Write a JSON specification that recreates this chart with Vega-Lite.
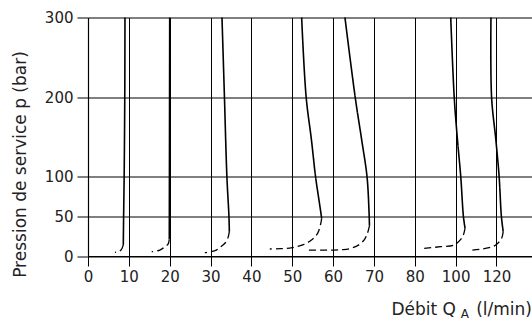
{
  "$schema": "https://vega.github.io/schema/vega-lite/v6.json",
  "width": 444,
  "height": 238.5,
  "autosize": "none",
  "padding": {"left": 88, "top": 17.5, "right": 0, "bottom": 64},
  "config": {"view": {"stroke": null}, "font": "DejaVu Sans"},
  "datasets": {
    "curves": [
      {"c": 1, "s": "solid", "i": 0, "q": 9.05, "p": 300},
      {"c": 1, "s": "solid", "i": 1, "q": 9.0, "p": 200},
      {"c": 1, "s": "solid", "i": 2, "q": 8.85, "p": 100},
      {"c": 1, "s": "solid", "i": 3, "q": 8.72, "p": 50},
      {"c": 1, "s": "solid", "i": 4, "q": 8.64, "p": 14},
      {"c": 1, "s": "dashed", "i": 4, "q": 8.64, "p": 14},
      {"c": 1, "s": "dashed", "i": 5, "q": 8.2, "p": 8.4},
      {"c": 1, "s": "dashed", "i": 6, "q": 7.5, "p": 5.5},
      {"c": 1, "s": "dashed", "i": 7, "q": 6.6, "p": 4.6},
      {"c": 2, "s": "solid", "i": 0, "q": 20.0, "p": 300},
      {"c": 2, "s": "solid", "i": 1, "q": 19.95, "p": 150},
      {"c": 2, "s": "solid", "i": 2, "q": 19.9, "p": 21},
      {"c": 2, "s": "dashed", "i": 2, "q": 19.9, "p": 21},
      {"c": 2, "s": "dashed", "i": 3, "q": 19.6, "p": 15},
      {"c": 2, "s": "dashed", "i": 4, "q": 18.85, "p": 11.7},
      {"c": 2, "s": "dashed", "i": 5, "q": 17.6, "p": 7.5},
      {"c": 2, "s": "dashed", "i": 6, "q": 15.6, "p": 5.4},
      {"c": 3, "s": "solid", "i": 0, "q": 32.8, "p": 300},
      {"c": 3, "s": "solid", "i": 1, "q": 33.4, "p": 200},
      {"c": 3, "s": "solid", "i": 2, "q": 34.0, "p": 100},
      {"c": 3, "s": "solid", "i": 3, "q": 34.5, "p": 50},
      {"c": 3, "s": "solid", "i": 4, "q": 34.6, "p": 30.6},
      {"c": 3, "s": "dashed", "i": 4, "q": 34.6, "p": 30.6},
      {"c": 3, "s": "dashed", "i": 5, "q": 34.2, "p": 22},
      {"c": 3, "s": "dashed", "i": 6, "q": 33.5, "p": 16},
      {"c": 3, "s": "dashed", "i": 7, "q": 32.5, "p": 11.7},
      {"c": 3, "s": "dashed", "i": 8, "q": 31.1, "p": 6.7},
      {"c": 3, "s": "dashed", "i": 9, "q": 28.6, "p": 4.2},
      {"c": 4, "s": "solid", "i": 0, "q": 52.3, "p": 300},
      {"c": 4, "s": "solid", "i": 1, "q": 53.4, "p": 200},
      {"c": 4, "s": "solid", "i": 2, "q": 54.7, "p": 146},
      {"c": 4, "s": "solid", "i": 3, "q": 55.7, "p": 100},
      {"c": 4, "s": "solid", "i": 4, "q": 56.7, "p": 65},
      {"c": 4, "s": "solid", "i": 5, "q": 57.2, "p": 47.4},
      {"c": 4, "s": "dashed", "i": 5, "q": 57.2, "p": 47.4},
      {"c": 4, "s": "dashed", "i": 6, "q": 56.9, "p": 39},
      {"c": 4, "s": "dashed", "i": 7, "q": 56.2, "p": 28.5},
      {"c": 4, "s": "dashed", "i": 8, "q": 54.7, "p": 20},
      {"c": 4, "s": "dashed", "i": 9, "q": 52.9, "p": 14.7},
      {"c": 4, "s": "dashed", "i": 10, "q": 50.0, "p": 10.5},
      {"c": 4, "s": "dashed", "i": 11, "q": 47.2, "p": 9.2},
      {"c": 4, "s": "dashed", "i": 12, "q": 44.5, "p": 8.8},
      {"c": 5, "s": "solid", "i": 0, "q": 62.9, "p": 300},
      {"c": 5, "s": "solid", "i": 1, "q": 65.4, "p": 200},
      {"c": 5, "s": "solid", "i": 2, "q": 67.0, "p": 146},
      {"c": 5, "s": "solid", "i": 3, "q": 68.3, "p": 100},
      {"c": 5, "s": "solid", "i": 4, "q": 68.8, "p": 55},
      {"c": 5, "s": "solid", "i": 5, "q": 68.9, "p": 38},
      {"c": 5, "s": "dashed", "i": 5, "q": 68.9, "p": 38},
      {"c": 5, "s": "dashed", "i": 6, "q": 68.4, "p": 28.5},
      {"c": 5, "s": "dashed", "i": 7, "q": 67.7, "p": 21},
      {"c": 5, "s": "dashed", "i": 8, "q": 66.3, "p": 14},
      {"c": 5, "s": "dashed", "i": 9, "q": 64.4, "p": 9.7},
      {"c": 5, "s": "dashed", "i": 10, "q": 62.3, "p": 8},
      {"c": 5, "s": "dashed", "i": 11, "q": 60.2, "p": 7.5},
      {"c": 5, "s": "dashed", "i": 12, "q": 53.6, "p": 7.5},
      {"c": 6, "s": "solid", "i": 0, "q": 97.6, "p": 300},
      {"c": 6, "s": "solid", "i": 1, "q": 99.3, "p": 200},
      {"c": 6, "s": "solid", "i": 2, "q": 100.9, "p": 146},
      {"c": 6, "s": "solid", "i": 3, "q": 102.5, "p": 100},
      {"c": 6, "s": "solid", "i": 4, "q": 103.8, "p": 50},
      {"c": 6, "s": "solid", "i": 5, "q": 104.6, "p": 35},
      {"c": 6, "s": "dashed", "i": 5, "q": 104.6, "p": 35},
      {"c": 6, "s": "dashed", "i": 6, "q": 103.8, "p": 26.4},
      {"c": 6, "s": "dashed", "i": 7, "q": 102.5, "p": 21},
      {"c": 6, "s": "dashed", "i": 8, "q": 99.2, "p": 13.8},
      {"c": 6, "s": "dashed", "i": 9, "q": 92.7, "p": 11.7},
      {"c": 6, "s": "dashed", "i": 10, "q": 84.6, "p": 9.7},
      {"c": 7, "s": "solid", "i": 0, "q": 117.3, "p": 300},
      {"c": 7, "s": "solid", "i": 1, "q": 117.6, "p": 200},
      {"c": 7, "s": "solid", "i": 2, "q": 119.7, "p": 146},
      {"c": 7, "s": "solid", "i": 3, "q": 121.3, "p": 100},
      {"c": 7, "s": "solid", "i": 4, "q": 122.4, "p": 50},
      {"c": 7, "s": "solid", "i": 5, "q": 123.3, "p": 30.6},
      {"c": 7, "s": "dashed", "i": 5, "q": 123.3, "p": 30.6},
      {"c": 7, "s": "dashed", "i": 6, "q": 122.5, "p": 22},
      {"c": 7, "s": "dashed", "i": 7, "q": 120.9, "p": 16.7},
      {"c": 7, "s": "dashed", "i": 8, "q": 118.8, "p": 12.5},
      {"c": 7, "s": "dashed", "i": 9, "q": 116.4, "p": 10.5},
      {"c": 7, "s": "dashed", "i": 10, "q": 112.0, "p": 8.5},
      {"c": 7, "s": "dashed", "i": 11, "q": 108.2, "p": 7.5}
    ],
    "t1": [{"t": "Débit Q"}],
    "t2": [{"t": "A"}],
    "t3": [{"t": "(l/min)"}]
  },
  "layer": [
    {
      "data": {"name": "curves"},
      "mark": {"type": "line", "interpolate": "catmull-rom", "color": "black"},
      "encoding": {
        "x": {
          "field": "q",
          "type": "quantitative",
          "scale": {"domain": [0, 80, 137.4], "range": [0, 326.8, 444], "nice": false, "zero": false},
          "axis": {
            "values": [0, 10, 20, 30, 40, 50, 60, 70, 80, 100, 120],
            "grid": true,
            "gridColor": "black",
            "gridOpacity": 1,
            "gridWidth": 1,
            "domainColor": "black",
            "domainWidth": 1.2,
            "tickColor": "black",
            "tickSize": 10,
            "labelFont": "DejaVu Sans",
            "labelFontSize": 15,
            "labelColor": "#222",
            "labelPadding": 3,
            "labelFlush": false,
            "labelOverlap": false,
            "title": null
          }
        },
        "y": {
          "field": "p",
          "type": "quantitative",
          "scale": {"domain": [0, 300], "nice": false},
          "axis": {
            "values": [0, 50, 100, 200, 300],
            "grid": true,
            "gridColor": "black",
            "gridOpacity": 1,
            "gridWidth": 1,
            "domainColor": "black",
            "domainWidth": 1.2,
            "tickColor": "black",
            "tickSize": 11,
            "labelFont": "DejaVu Sans",
            "labelFontSize": 15,
            "labelColor": "#222",
            "labelPadding": 4,
            "labelFlush": false,
            "labelOverlap": false,
            "title": "Pression de service p (bar)",
            "titleFont": "DejaVu Sans",
            "titleFontSize": 17,
            "titleFontWeight": "normal",
            "titleColor": "#222",
            "titleAngle": 270,
            "titleX": -62.5,
            "titleY": 146.5,
            "titleAlign": "center",
            "titleBaseline": "alphabetic"
          }
        },
        "detail": {"field": "c", "type": "nominal"},
        "strokeDash": {"field": "s", "type": "nominal", "scale": {"domain": ["solid", "dashed"], "range": [[1, 0], [7, 4]]}, "legend": null},
        "strokeWidth": {"field": "s", "type": "nominal", "scale": {"domain": ["solid", "dashed"], "range": [1.6, 1.3]}, "legend": null},
        "order": {"field": "i", "type": "quantitative"}
      }
    },
    {
      "data": {"name": "t1"},
      "mark": {"type": "text", "align": "right", "baseline": "alphabetic", "dx": -76, "fontSize": 17, "font": "DejaVu Sans", "color": "#222"},
      "encoding": {"x": {"datum": 137.4}, "y": {"datum": -74}, "text": {"field": "t"}}
    },
    {
      "data": {"name": "t2"},
      "mark": {"type": "text", "align": "right", "baseline": "alphabetic", "dx": -63, "fontSize": 12, "font": "DejaVu Sans", "color": "#222"},
      "encoding": {"x": {"datum": 137.4}, "y": {"datum": -78}, "text": {"field": "t"}}
    },
    {
      "data": {"name": "t3"},
      "mark": {"type": "text", "align": "right", "baseline": "alphabetic", "dx": 0, "fontSize": 17, "font": "DejaVu Sans", "color": "#222"},
      "encoding": {"x": {"datum": 137.4}, "y": {"datum": -74}, "text": {"field": "t"}}
    }
  ]
}
